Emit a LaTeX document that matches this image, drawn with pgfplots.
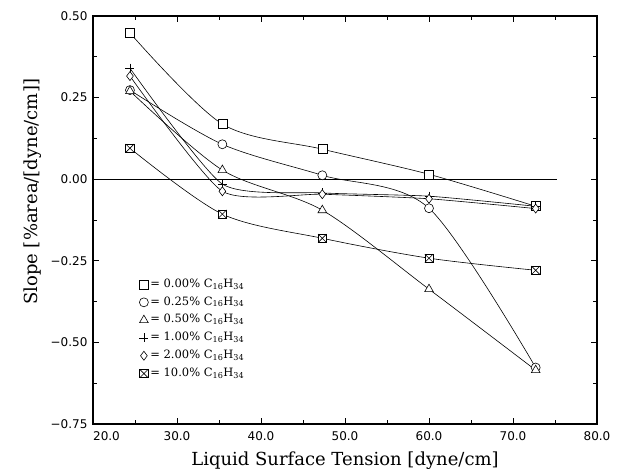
\documentclass[border=0pt]{standalone}
\usepackage{fontspec}
\setmainfont{DejaVu Serif}
\newfontfamily\tickfont{DejaVu Sans}
\usepackage{pgfplots}
\pgfplotsset{compat=1.18}

\pgfdeclareplotmark{boxx}{%
  \pgfpathrectangle{\pgfpoint{-\pgfplotmarksize}{-\pgfplotmarksize}}{\pgfpoint{2\pgfplotmarksize}{2\pgfplotmarksize}}%
  \pgfusepathqfillstroke
  \pgfpathmoveto{\pgfpoint{-\pgfplotmarksize}{-\pgfplotmarksize}}%
  \pgfpathlineto{\pgfpoint{\pgfplotmarksize}{\pgfplotmarksize}}%
  \pgfpathmoveto{\pgfpoint{-\pgfplotmarksize}{\pgfplotmarksize}}%
  \pgfpathlineto{\pgfpoint{\pgfplotmarksize}{-\pgfplotmarksize}}%
  \pgfusepathqstroke}

\begin{document}
\begin{tikzpicture}
\begin{axis}[
  scale only axis, width=504pt, height=408pt,
  xmin=20, xmax=80, ymin=-0.75, ymax=0.5,
  xtick={20,30,40,50,60,70,80},
  xticklabels={\hspace*{27pt}20.0,30.0,40.0,50.0,60.0,70.0,80.0},
  ytick={-0.75,-0.5,-0.25,0,0.25,0.5},
  yticklabels={−0.75,−0.50,−0.25,0.00,0.25,0.50},
  minor x tick num=1, minor y tick num=1,
  tick align=inside, major tick length=6pt, minor tick length=4pt,
  tick style={black, line width=0.6pt},
  axis line style={line width=1.3pt},
  ticklabel style={font=\tickfont\fontsize{12}{14}\selectfont},
  xticklabel style={yshift=-4pt},
  yticklabel style={xshift=-2pt},
  xlabel={Liquid Surface Tension [dyne/cm]},
  ylabel={Slope [\%area/[dyne/cm]]},
  label style={font=\fontsize{18}{20}\selectfont},
  xlabel style={at={(axis description cs:0.5,-0.091)}, anchor=center},
  ylabel style={at={(axis description cs:-0.12,0.569)}, anchor=center},
  every axis plot/.append style={black, line width=0.6pt},
  legend image code/.code={\draw[mark repeat=2,mark phase=2,#1,only marks] plot coordinates {(0pt,0pt) (4.5pt,0pt) (9pt,0pt)};},
  legend style={at={(axis cs:25.5,-0.306)}, anchor=north west, draw=none, fill=none,
    font=\fontsize{11.5}{13}\selectfont, row sep=7.3pt, column sep=2pt, inner sep=0pt,
    nodes={inner sep=0pt, text height=8pt, text depth=2.5pt}},
  legend cell align=left,
]
\coordinate (sw) at (rel axis cs:0,0);
\coordinate (ne) at (rel axis cs:1,1);
\addplot[forget plot, line width=0.6pt] coordinates {(20,0) (75.2,0)};
\addplot[smooth, mark=square*, mark size=4.5pt, mark options={fill=white, line width=0.6pt}]
  coordinates {(24.4,0.448) (35.4,0.169) (47.3,0.092) (60.0,0.015) (72.7,-0.083)};
\addlegendentry{= 0.00\% C\textsubscript{16}H\textsubscript{34}}
\addplot[smooth, mark=*, mark size=4.5pt, mark options={fill=white, line width=0.6pt}]
  coordinates {(24.4,0.273) (35.4,0.107) (47.3,0.012) (60.0,-0.089) (72.7,-0.577)};
\addlegendentry{= 0.25\% C\textsubscript{16}H\textsubscript{34}}
\addplot[smooth, mark=triangle*, mark size=5pt, mark options={fill=white, line width=0.6pt}]
  coordinates {(24.4,0.27) (35.4,0.028) (47.3,-0.095) (60.0,-0.337) (72.7,-0.585)};
\addlegendentry{= 0.50\% C\textsubscript{16}H\textsubscript{34}}
\addplot[smooth, tension=0.35, mark=+, mark size=4.5pt, mark options={line width=0.6pt}]
  coordinates {(24.4,0.34) (35.4,-0.015) (47.3,-0.042) (60.0,-0.052) (72.7,-0.083)};
\addlegendentry{= 1.00\% C\textsubscript{16}H\textsubscript{34}}
\addplot[smooth, tension=0.35, mark=diamond*, mark size=4.5pt, mark options={fill=white, line width=0.6pt}]
  coordinates {(24.4,0.316) (35.4,-0.037) (47.3,-0.046) (60.0,-0.06) (72.7,-0.09)};
\addlegendentry{= 2.00\% C\textsubscript{16}H\textsubscript{34}}
\addplot[smooth, mark=boxx, mark size=4.2pt, mark options={fill=white, line width=0.6pt}]
  coordinates {(24.4,0.095) (35.4,-0.107) (47.3,-0.181) (60.0,-0.242) (72.7,-0.279)};
\addlegendentry{= 10.0\% C\textsubscript{16}H\textsubscript{34}}
\end{axis}
\pgfresetboundingbox
\path[use as bounding box] ([shift={(-93pt,-47pt)}]sw) rectangle ([shift={(20pt,16pt)}]ne);
\end{tikzpicture}
\end{document}
